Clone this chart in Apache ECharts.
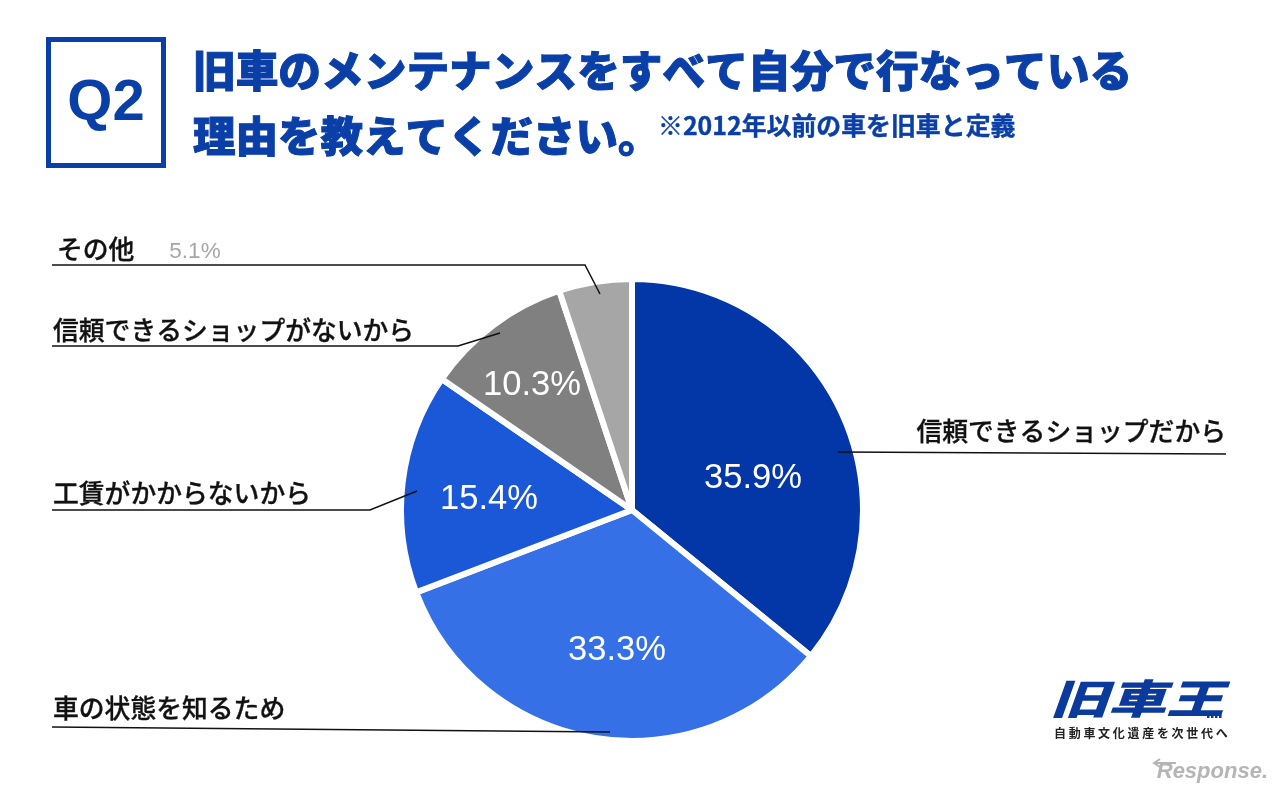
<!DOCTYPE html>
<html>
<head>
<meta charset="utf-8">
<script src="https://cdn.jsdelivr.net/npm/echarts@6/dist/echarts.min.js"></script>
<style>
html, body { margin: 0; padding: 0; background: #fff; }
#chart { width: 1280px; height: 790px; }
</style>
</head>
<body>
<div id="chart"></div>
<script>
// chart values, clockwise from the top
var names = ["信頼できるショップだから", "車の状態を知るため", "工賃がかからないから", "信頼できるショップがないから", "その他"];
var shares = [35.9, 33.3, 15.4, 10.3, 5.1];
var sliceColors = ["#0336a6", "#3570e6", "#1a58d8", "#808080", "#a6a6a6"];

// where the percent labels sit, same order as names
var pctLabelX = [753, 617, 489, 532, 195];
var pctLabelY = [478, 650, 499, 385, 252];

// name labels [x, y, align]
var nameLabelPos = [[1226, 431, "right"], [53, 708, "left"], [53, 493, "left"], [53, 330, "left"], [57, 249, "left"]];
// leader lines
var leaders = [
	[[1226, 454], [838, 452]],
	[[52, 727], [610, 732]],
	[[52, 510], [370, 510], [417, 491]],
	[[52, 346], [458, 346], [500, 333]],
	[[52, 265], [585, 265], [600, 294]]
];

var blue = "#0a3fa8";
var jpFont = "'Noto Sans CJK JP'";
var tagline = "自動車文化遺産を次世代へ";
var chart = echarts.init(document.getElementById("chart"), null, { renderer: "canvas" });

var graphics = [
	// Q2 box
	{ type: "rect", shape: { x: 48.5, y: 39.5, width: 115, height: 126 }, style: { fill: "none", stroke: blue, lineWidth: 5 } },
	{ type: "text", x: 106, y: 104, style: { text: "Q2", fill: blue, font: "bold 58px 'Liberation Sans'", textAlign: "center", textVerticalAlign: "middle" } },
	// title
	{ type: "text", x: 193, y: 71, style: { text: "旧車のメンテナンスをすべて自分で行なっている", fill: blue, stroke: blue, lineWidth: 1, font: "900 42.7px " + jpFont, textVerticalAlign: "middle" } },
	{ type: "text", x: 193, y: 136, style: { text: "理由を教えてください。", fill: blue, stroke: blue, lineWidth: 1, font: "900 42.5px " + jpFont, textVerticalAlign: "middle" } },
	{ type: "text", x: 658, y: 126, style: { text: "※2012年以前の車を旧車と定義", fill: blue, stroke: blue, lineWidth: 0.4, font: "bold 24.9px " + jpFont, textVerticalAlign: "middle" } },
	// logo
	{ type: "text", x: 1137, y: 699, scaleY: 0.7, style: { text: "旧車王", fill: "#0a3a9c", font: "italic 900 58px " + jpFont, textAlign: "center", textVerticalAlign: "middle" } },
	// watermark
	{ type: "polyline", shape: { points: [[1160, 759], [1154, 763], [1160, 767]] }, style: { fill: "none", stroke: "#b5b5b5", lineWidth: 2 } },
	{ type: "polyline", shape: { points: [[1154, 763], [1176, 763]] }, style: { fill: "none", stroke: "#b5b5b5", lineWidth: 2 } },
	{ type: "text", x: 1268, y: 772, style: { text: "Response.", fill: "#b5b5b5", font: "italic bold 22px 'Liberation Sans'", textAlign: "right", textVerticalAlign: "middle" } }
];

// logo stripes
[0, 1, 2, 3].forEach(function (k) {
	graphics.push({ type: "rect", z: 5, shape: { x: 1207 + k * 4, y: 712, width: 2.5, height: 6 }, style: { fill: "#0a3a9c" } });
});

// tagline has wide gaps between the characters
tagline.split("").forEach(function (ch, k) {
	graphics.push({
		type: "text",
		x: 1060 + k * 14.7,
		y: 733,
		style: { text: ch, fill: "#222", font: "bold 12px " + jpFont, textAlign: "center", textVerticalAlign: "middle" }
	});
});

names.forEach(function (name, i) {
	graphics.push({
		type: "text",
		x: nameLabelPos[i][0],
		y: nameLabelPos[i][1],
		z: 10,
		style: { text: name, fill: "#111", stroke: "#111", lineWidth: 0.3, font: "500 25.8px " + jpFont, textAlign: nameLabelPos[i][2], textVerticalAlign: "middle" }
	});
	graphics.push({
		type: "polyline",
		z: 10,
		shape: { points: leaders[i] },
		style: { fill: "none", stroke: "#111", lineWidth: 1.5 }
	});
});

var option = {
	backgroundColor: "#ffffff",
	animation: false,
	graphic: { elements: graphics },
	series: [
		{
			type: "pie",
			center: [632, 510],
			radius: [0, 231],
			startAngle: 90,
			clockwise: true,
			silent: true,
			itemStyle: { borderColor: "#ffffff", borderWidth: 6 },
			label: {
				show: true,
				position: "inside",
				formatter: function (p) { return p.value.toFixed(1) + "%"; },
				color: "#ffffff",
				fontFamily: "'Liberation Sans'",
				fontSize: 34.5
			},
			labelLine: { show: false },
			labelLayout: function (p) {
				return { x: pctLabelX[p.dataIndex], y: pctLabelY[p.dataIndex], align: "center", verticalAlign: "middle" };
			},
			data: names.map(function (name, i) {
				var item = { name: name, value: shares[i], itemStyle: { color: sliceColors[i] } };
				// the smallest share has its number up by the name, in grey
				if (i === 4) item.label = { color: "#a6a6a6", fontSize: 22.5 };
				return item;
			})
		}
	]
};
chart.setOption(option);

window.addEventListener("resize", function () {
	chart.resize();
});
</script>
</body>
</html>
